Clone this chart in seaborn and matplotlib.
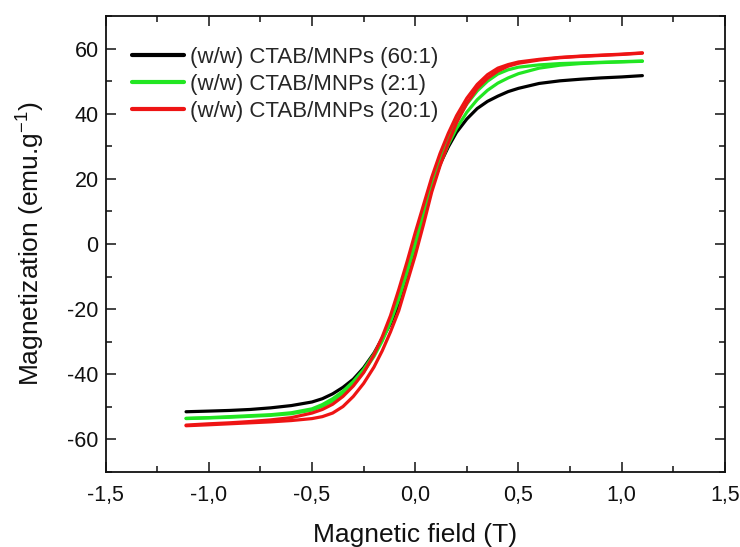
import numpy as np
import pandas as pd
import matplotlib
matplotlib.use("Agg")
import matplotlib.pyplot as plt
from matplotlib.ticker import MultipleLocator, FuncFormatter
import seaborn as sns

# ---- data ----
field = [-1.11, -1.0, -0.9, -0.8, -0.7, -0.6, -0.5, -0.45, -0.4, -0.35, -0.3, -0.25,
         -0.2, -0.16, -0.12, -0.08, -0.04, 0.0, 0.04, 0.08, 0.12, 0.16, 0.2, 0.25,
         0.3, 0.35, 0.4, 0.45, 0.5, 0.6, 0.7, 0.8, 0.9, 1.0, 1.1]

m_60_1 = [-51.5, -51.3, -51.1, -50.8, -50.3, -49.6, -48.5, -47.5, -46.0, -44.0, -41.5, -38.0,
          -33.5, -29.0, -24.5, -18.5, -10.5, -1.0, 8.5, 17.5, 24.5, 29.8, 34.3, 38.4,
          41.6, 43.8, 45.4, 46.8, 47.8, 49.3, 50.1, 50.6, 51.0, 51.3, 51.7]

m_2_1_up = [-53.6, -53.4, -53.2, -52.9, -52.6, -52.1, -51.0, -49.8, -48.2, -46.0, -43.0, -39.3,
            -34.5, -29.8, -24.0, -17.0, -9.0, -0.5, 8.5, 17.0, 24.5, 30.5, 35.5, 40.5,
            44.3, 47.2, 49.4, 51.0, 52.3, 54.0, 54.9, 55.4, 55.7, 55.9, 56.1]
m_2_1_down = [-53.5, -53.3, -53.0, -52.7, -52.4, -51.8, -50.6, -49.3, -47.5, -45.2, -42.2, -38.5,
              -33.8, -29.0, -23.0, -16.0, -8.0, 0.5, 9.5, 18.5, 26.5, 32.8, 38.0, 43.0,
              47.0, 50.0, 52.2, 53.5, 54.3, 55.0, 55.4, 55.6, 55.8, 56.0, 56.2]

m_20_1_up = [-55.8, -55.5, -55.2, -54.9, -54.6, -54.2, -53.6, -53.0, -51.9, -49.9, -46.8, -42.8,
             -37.8, -32.8, -27.0, -20.5, -12.0, -3.5, 6.0, 16.0, 24.0, 31.0, 37.2, 43.2,
             47.8, 50.9, 53.1, 54.6, 55.5, 56.5, 57.2, 57.6, 57.9, 58.2, 58.6]
m_20_1_down = [-55.6, -55.2, -54.9, -54.5, -54.0, -53.3, -51.9, -50.8, -49.2, -46.8, -43.6, -39.5,
               -34.0, -28.5, -22.0, -14.0, -5.5, 3.5, 12.0, 20.5, 27.8, 34.0, 39.4, 44.8,
               49.0, 52.0, 54.0, 55.1, 55.9, 56.7, 57.3, 57.7, 58.0, 58.3, 58.7]

labels = ["(w/w) CTAB/MNPs (60:1)", "(w/w) CTAB/MNPs (2:1)", "(w/w) CTAB/MNPs (20:1)"]
colors = ["#000000", "#22E622", "#EE1414"]

x_ticks = [-1.5, -1.0, -0.5, 0.0, 0.5, 1.0, 1.5]
y_ticks = [-60, -40, -20, 0, 20, 40, 60]

# ---- style ----
sns.set_theme(style="ticks")
plt.rcParams["font.family"] = ["Liberation Sans", "DejaVu Sans"]
plt.rcParams["mathtext.default"] = "regular"
plt.rcParams["axes.unicode_minus"] = False

fig = plt.figure(figsize=(7.40, 5.47), dpi=100)
ax = fig.add_axes([0.1426, 0.1371, 0.9797 - 0.1426, 0.9707 - 0.1371])

series = [
    (labels[0], colors[0], [m_60_1]),
    (labels[1], colors[1], [m_2_1_up, m_2_1_down[::-1]]),
    (labels[2], colors[2], [m_20_1_up, m_20_1_down[::-1]]),
]

for lab, col, branches in series:
    for i, br in enumerate(branches):
        h = field if i == 0 else field[::-1]
        df = pd.DataFrame({"H": h, "M": br})
        sns.lineplot(data=df, x="H", y="M", sort=False, estimator=None, color=col,
                     lw=2.3, ax=ax, label=lab if i == 0 else None)

ax.set_xlim(-1.5, 1.5)
ax.set_ylim(-70, 70)
ax.set_xticks(x_ticks)
ax.set_yticks(y_ticks)
ax.xaxis.set_minor_locator(MultipleLocator(0.25))
ax.yaxis.set_minor_locator(MultipleLocator(10))
ax.xaxis.set_major_formatter(FuncFormatter(lambda v, p: f"{v:.1f}".replace(".", ",")))
ax.yaxis.set_major_formatter(FuncFormatter(lambda v, p: f"{int(round(v))}"))

ax.tick_params(which="both", direction="in", top=True, right=True, width=1.1,
               labelsize=15.5, colors="#111111")
ax.tick_params(axis="x", which="major", pad=9)
ax.tick_params(axis="y", which="major", pad=5)
ax.tick_params(which="major", length=7.5)
ax.tick_params(which="minor", length=4)
for s in ax.spines.values():
    s.set_linewidth(1.3)
    s.set_color("#111111")

ax.set_xlabel("Magnetic field (T)", fontsize=19, labelpad=12.5, color="#111111")
ax.set_ylabel("Magnetization (emu.g$^{-1}$)", fontsize=19, labelpad=14.5, color="#111111")

leg = ax.legend(loc="upper left", bbox_to_anchor=(0.042, 0.932), frameon=False,
                fontsize=16, handlelength=2.35, handletextpad=0.3, labelspacing=0.27,
                borderpad=0, borderaxespad=0)
for line in leg.get_lines():
    line.set_linewidth(3)

fig.savefig("out.png", dpi=100)
